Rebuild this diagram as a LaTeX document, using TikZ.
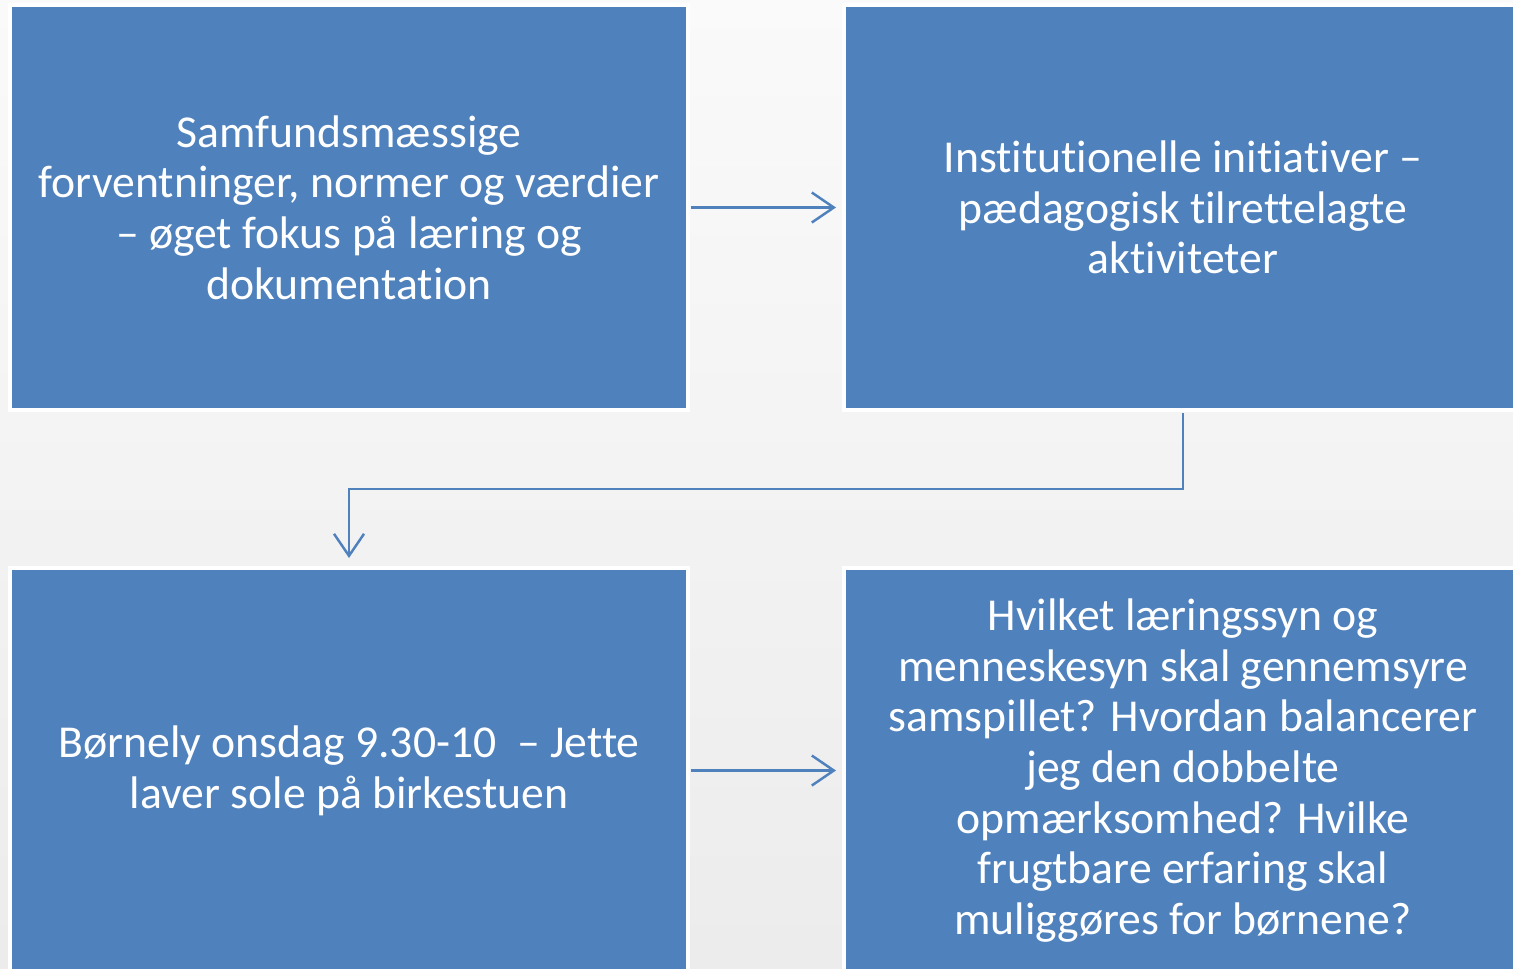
\documentclass[tikz,border=0pt]{standalone}
\usepackage{fontspec}
\setmainfont{Carlito}[Ligatures=NoCommon]
\usetikzlibrary{positioning,arrows.meta}

\definecolor{boxblue}{HTML}{4F81BD}

\begin{document}
\begin{tikzpicture}[
		bluebox/.style={rectangle,draw=white,line width=0.08cm,fill=boxblue,text=white,
			minimum width=13.56cm,minimum height=8.1cm,align=center,
			font=\fontsize{26}{28.8}\selectfont},
		flow/.style={draw=boxblue,line width=1.4pt,-{Straight Barb[length=0.44cm,width=0.6cm]}}]
		% background
		\shade[top color=white!50!gray!8,bottom color=gray!15] (0,0) rectangle (30.26,-19.36);
		\useasboundingbox (0,0) rectangle (30.26,-19.36);

		\node[bluebox] (samfund) at (6.98,-4.15) {Samfundsmæssige\\forventninger, normer og værdier\\– øget fokus på læring og\\dokumentation};
		\node[bluebox,node distance=3.04cm,right=of samfund] (institution) {Institutionelle initiativer –\\pædagogisk tilrettelagte\\aktiviteter};
		\node[bluebox,node distance=3.08cm,below=of samfund] (boernely) {Børnely onsdag 9.30-10 \ – Jette\\laver sole på birkestuen};
		\node[bluebox,node distance=3.04cm,right=of boernely] (spoergsmaal) {Hvilket læringssyn og\\menneskesyn skal gennemsyre\\samspillet? Hvordan balancerer\\jeg den dobbelte\\opmærksomhed? Hvilke\\frugtbare erfaring skal\\muliggøres for børnene?};

		\draw[flow,shorten <=0.02cm,shorten >=0.12cm] (samfund) -- (institution);
		\draw[flow,shorten <=0.02cm,shorten >=0.16cm] (institution.south) -- ++(0,-1.54) -| (boernely.north);
		\draw[flow,shorten <=0.02cm,shorten >=0.12cm] (boernely) -- (spoergsmaal);
	\end{tikzpicture}
\end{document}
